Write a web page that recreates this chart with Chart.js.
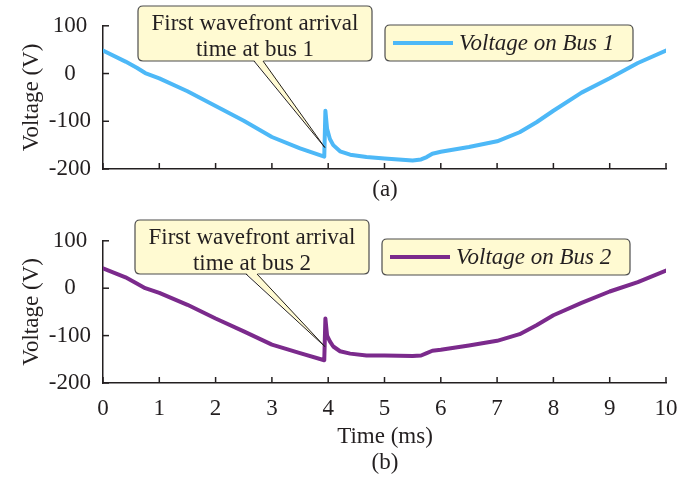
<!DOCTYPE html>
<html>
<head>
<meta charset="utf-8">
<script src="https://cdn.jsdelivr.net/npm/chart.js@4.4.1/dist/chart.umd.min.js"></script>
<style>
  html, body { margin: 0; padding: 0; background: #fff; }
  #wrap { position: relative; width: 697px; height: 483px; }
  .panel { position: absolute; left: 0; width: 697px; }
</style>
</head>
<body>
<div id="wrap">
  <div class="panel" style="top:0;height:215px"><canvas id="bus1"></canvas></div>
  <div class="panel" style="top:215px;height:268px"><canvas id="bus2"></canvas></div>
</div>
<script>
// Time axis (ms), shared by both traces
const times = [0, 0.4, 0.6, 0.75, 1, 1.5, 2, 2.5, 3, 3.5, 3.93, 3.95, 3.98, 4.03, 4.09, 4.21,
  4.39, 4.68, 5, 5.5, 5.65, 5.75, 5.85, 6, 6.5, 7, 7.4, 7.7, 8, 8.5, 9, 9.5, 10];

// Voltage readings (V)
const bus1 = [48, 25, 12, 1, -10, -37, -68, -99, -133, -157, -174, -78, -116, -137, -150, -163,
  -170, -175, -178, -182, -180, -175, -168, -164, -154, -142, -123, -102, -78, -40, -10, 22, 48];
const bus2 = [42, 23, 10, 0, -10, -35, -64, -91, -119, -137, -152, -64, -100, -112, -123, -133,
  -138, -142, -142, -143, -142, -137, -132, -130, -121, -111, -97, -78, -57, -31, -7, 13, 37];

const xTicks = [0, 1, 2, 3, 4, 5, 6, 7, 8, 9, 10];
const yTicks = [-200, -100, 0, 100];

const serif = '"Liberation Serif", "Times New Roman", serif';
const fontSize = 23;
const ink = '#231f20';
const noteFill = '#fffad2';
const noteEdge = '#4d4d4d';

function roundRect(ctx, x, y, w, h, r) {
  ctx.beginPath();
  ctx.moveTo(x + r, y);
  ctx.lineTo(x + w - r, y);
  ctx.quadraticCurveTo(x + w, y, x + w, y + r);
  ctx.lineTo(x + w, y + h - r);
  ctx.quadraticCurveTo(x + w, y + h, x + w - r, y + h);
  ctx.lineTo(x + r, y + h);
  ctx.quadraticCurveTo(x, y + h, x, y + h - r);
  ctx.lineTo(x, y + r);
  ctx.quadraticCurveTo(x, y, x + r, y);
  ctx.closePath();
}

// draws inward ticks, axis captions, the callout and the boxed legend
const figurePlugin = {
  id: 'figure',
  afterDraw(chart, args, opts) {
    const ctx = chart.ctx;
    const xs = chart.scales.x;
    const ys = chart.scales.y;
    const area = chart.chartArea;
    ctx.save();

    // inward tick marks
    ctx.strokeStyle = ink;
    ctx.lineWidth = 1.5;
    xTicks.forEach(t => {
      const px = xs.getPixelForValue(t);
      ctx.beginPath();
      ctx.moveTo(px, area.bottom);
      ctx.lineTo(px, area.bottom - 6);
      ctx.stroke();
    });
    yTicks.forEach(v => {
      const py = ys.getPixelForValue(v);
      ctx.beginPath();
      ctx.moveTo(area.left, py);
      ctx.lineTo(area.left + 6, py);
      ctx.stroke();
    });

    // texts
    ctx.fillStyle = ink;
    ctx.font = fontSize + 'px ' + serif;
    ctx.textAlign = 'center';
    ctx.textBaseline = 'middle';
    ctx.save();
    ctx.translate(32, (area.top + area.bottom) / 2);
    ctx.rotate(-Math.PI / 2);
    ctx.fillText('Voltage (V)', 0, 0);
    ctx.restore();
    if (opts.xTitle) ctx.fillText(opts.xTitle, 385, opts.xTitleY);
    ctx.fillText(opts.caption, 385, opts.captionY);

    // callout
    const c = opts.callout;
    const tipX = xs.getPixelForValue(c.tip[0]);
    const tipY = ys.getPixelForValue(c.tip[1]);
    roundRect(ctx, c.box[0], c.box[1], c.box[2], c.box[3], 5);
    ctx.fillStyle = noteFill;
    ctx.fill();
    ctx.strokeStyle = noteEdge;
    ctx.lineWidth = 1.2;
    ctx.stroke();
    const by = c.box[1] + c.box[3];
    ctx.beginPath();
    ctx.moveTo(c.tail[0], by - 1);
    ctx.lineTo(tipX, tipY);
    ctx.lineTo(c.tail[1], by - 1);
    ctx.closePath();
    ctx.fillStyle = noteFill;
    ctx.fill();
    ctx.beginPath();
    ctx.moveTo(c.tail[0], by);
    ctx.lineTo(tipX, tipY);
    ctx.lineTo(c.tail[1], by);
    ctx.strokeStyle = ink;
    ctx.lineWidth = 1;
    ctx.stroke();
    ctx.fillStyle = ink;
    ctx.font = fontSize + 'px ' + serif;
    ctx.textBaseline = 'alphabetic';
    const cx = c.box[0] + c.box[2] / 2;
    c.lines.forEach((ln, i) => ctx.fillText(ln, cx, c.box[1] + 24 + i * 26));

    // legend
    const l = opts.legend;
    roundRect(ctx, l.box[0], l.box[1], l.box[2], l.box[3], 5);
    ctx.fillStyle = noteFill;
    ctx.fill();
    ctx.strokeStyle = noteEdge;
    ctx.lineWidth = 1.2;
    ctx.stroke();
    const ly = l.box[1] + l.box[3] / 2;
    ctx.beginPath();
    ctx.moveTo(l.box[0] + 8, ly);
    ctx.lineTo(l.box[0] + 68, ly);
    ctx.strokeStyle = l.color;
    ctx.lineWidth = 4;
    ctx.stroke();
    ctx.fillStyle = ink;
    ctx.font = 'italic ' + fontSize + 'px ' + serif;
    ctx.textAlign = 'left';
    ctx.textBaseline = 'middle';
    ctx.fillText(l.label, l.box[0] + 74, ly + 1);

    ctx.restore();
  }
};

function makeChart(id, values, color, showXLabels, fig) {
  const points = times.map((t, i) => ({ x: t, y: values[i] }));
  return new Chart(document.getElementById(id), {
    type: 'line',
    data: {
      datasets: [{
        label: fig.legend.label,
        data: points,
        borderColor: color,
        borderWidth: 4,
        borderJoinStyle: 'round',
        borderCapStyle: 'round',
        pointRadius: 0,
        tension: 0,
      }],
    },
    options: {
      responsive: true,
      maintainAspectRatio: false,
      animation: false,
      layout: {
        padding: { top: 24, right: 31, left: 0, bottom: 0 },
      },
      scales: {
        x: {
          type: 'linear',
          min: 0,
          max: 10,
          afterBuildTicks: (s) => { s.ticks = xTicks.map(v => ({ value: v })); },
          afterFit: (s) => { s.height = fig.xAxisHeight; },
          grid: { display: false, drawTicks: false },
          border: { display: true, color: ink, width: 1.5 },
          ticks: {
            display: showXLabels,
            color: ink,
            padding: 12,
            font: { family: serif, size: fontSize },
          },
        },
        y: {
          min: -200,
          max: 100,
          afterBuildTicks: (s) => { s.ticks = yTicks.map(v => ({ value: v })); },
          afterFit: (s) => { s.width = 103; },
          grid: { display: false, drawTicks: false },
          border: { display: true, color: ink, width: 1.5 },
          ticks: {
            color: ink,
            padding: 12,
            crossAlign: 'center',
            font: { family: serif, size: fontSize },
          },
        },
      },
      plugins: {
        legend: { display: false },
        tooltip: { enabled: false },
        figure: fig,
      },
    },
    plugins: [figurePlugin],
  });
}

makeChart('bus1', bus1, '#4db8f7', false, {
  xAxisHeight: 46,
  caption: '(a)',
  captionY: 190,
  callout: {
    box: [138, 6, 234, 55],
    tail: [254, 263],
    tip: [3.94, -155],
    lines: ['First wavefront arrival', 'time at bus 1'],
  },
  legend: { box: [385, 25, 248, 36], color: '#4db8f7', label: 'Voltage on Bus 1' },
});

makeChart('bus2', bus2, '#7b2a8c', true, {
  xAxisHeight: 100,
  xTitle: 'Time (ms)',
  xTitleY: 222,
  caption: '(b)',
  captionY: 248,
  callout: {
    box: [135, 5, 234, 54],
    tail: [246, 257],
    tip: [3.94, -123],
    lines: ['First wavefront arrival', 'time at bus 2'],
  },
  legend: { box: [382, 24, 248, 36], color: '#7b2a8c', label: 'Voltage on Bus 2' },
});
</script>
</body>
</html>
